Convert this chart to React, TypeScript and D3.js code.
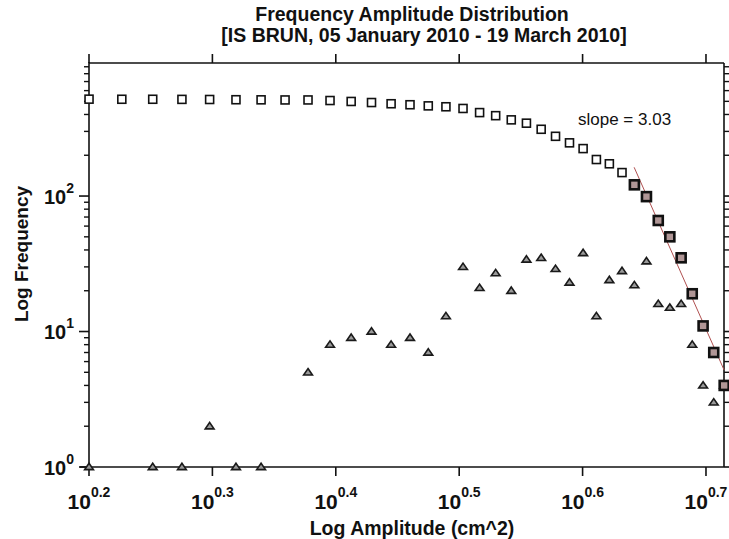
import React from "react";
import * as d3 from "d3";

// Amplitude bins (cm^2)
const amplitudes = [
  1.585, 1.685, 1.785, 1.885, 1.985, 2.085, 2.185, 2.285, 2.385, 2.485,
  2.585, 2.685, 2.785, 2.885, 2.985, 3.085, 3.185, 3.285, 3.385, 3.485,
  3.585, 3.685, 3.785, 3.885, 3.985, 4.085, 4.185, 4.285, 4.385, 4.485,
  4.585, 4.685, 4.785, 4.885, 4.985, 5.085, 5.185,
];
// Cumulative frequency (squares)
const cumulative = [
  519, 518, 518, 517, 516, 514, 513, 512, 512, 507,
  499, 490, 480, 472, 463, 456, 443, 413, 392, 365,
  345, 311, 276, 247, 224, 186, 173, 149, 121, 99,
  66, 50, 35, 19, 11, 7, 4,
];
// Incremental frequency (triangles), 0 = not plotted
const incremental = [
  1, 0, 1, 1, 2, 1, 1, 0, 5, 8,
  9, 10, 8, 9, 7, 13, 30, 21, 27, 20,
  34, 35, 29, 23, 38, 13, 24, 28, 22, 33,
  16, 15, 16, 8, 4, 3, 4,
];
// Points used for the fit (highlighted squares): index range
const fitStartIndex = 28;
// Fit line endpoints
const fitAmp = [4.383, 5.184];
const fitFreq = [163, 5.2];
const slopeLabel = "slope = 3.03";

const xTickExps = ["0.2", "0.3", "0.4", "0.5", "0.6", "0.7"];
const yTickExps = ["0", "1", "2"];

const W = 729;
const H = 539;
const L = 89, R = 724, T = 63, B = 467;
const FONT = "'Liberation Sans', Arial, sans-serif";

export default function App() {
  const x = d3.scaleLog().domain([Math.pow(10, 0.2), Math.pow(10, 0.7146)]).range([L, R]);
  const y = d3.scaleLog().domain([1, Math.pow(10, 2.982)]).range([B, T]);

  const yMinor: number[] = [];
  [1, 10, 100].forEach((d) => {
    for (let k = 2; k <= 9; k++) {
      const v = d * k;
      if (v <= y.domain()[1]) yMinor.push(v);
    }
  });

  const tri = (cx: number, cy: number) => {
    const s = 4.4;
    return `M${cx},${cy - s * 0.85} L${cx + s},${cy + s * 0.6} L${cx - s},${cy + s * 0.6} Z`;
  };

  const line = d3
    .line<number>()
    .x((_, i) => x(fitAmp[i]))
    .y((d) => y(d));

  return (
    <svg width={W} height={H} style={{ position: "absolute", left: 0, top: 0, background: "#fff" }} fontFamily={FONT}>
      <rect x={0} y={0} width={W} height={H} fill="#fff" />
      {/* title */}
      <text x={412} y={21} textAnchor="middle" fontWeight="bold" fontSize={19.5} fill="#111">
        Frequency Amplitude Distribution
      </text>
      <text x={424} y={42} textAnchor="middle" fontWeight="bold" fontSize={19.5} fill="#111">
        [IS BRUN, 05 January 2010 - 19 March 2010]
      </text>

      {/* frame */}
      <g stroke="#111" strokeWidth={1.6} fill="none">
        <line x1={L} y1={T - 1} x2={L} y2={B} />
        <line x1={L - 9} y1={B} x2={R} y2={B} />
        <line x1={L} y1={T} x2={R} y2={T} />
        <line x1={R} y1={T} x2={R} y2={B} />
      </g>

      {/* x ticks bottom & top */}
      {xTickExps.map((e) => {
        const v = Math.pow(10, +e);
        const xx = x(v);
        return (
          <g key={"xt" + e}>
            <line x1={xx} x2={xx} y1={B} y2={B + 9} stroke="#111" strokeWidth={1.6} />
            <line x1={xx} x2={xx} y1={T} y2={T - 9} stroke="#111" strokeWidth={1.6} />
            <text x={xx} y={509} textAnchor="middle" fontWeight="bold" fill="#111">
              <tspan fontSize={21}>10</tspan>
              <tspan fontSize={14} dy={-12}>{e}</tspan>
            </text>
          </g>
        );
      })}

      {/* y ticks left & right */}
      {yTickExps.map((e) => {
        const yy = y(Math.pow(10, +e));
        return (
          <g key={"yt" + e}>
            <line x1={L - 10} x2={L} y1={yy} y2={yy} stroke="#111" strokeWidth={1.6} />
            <line x1={R} x2={R + 8} y1={yy} y2={yy} stroke="#111" strokeWidth={1.6} />
            <text x={74} y={yy + 7.5} textAnchor="end" fontWeight="bold" fill="#111">
              <tspan fontSize={20}>10</tspan>
              <tspan fontSize={14} dy={-11}>{e}</tspan>
            </text>
          </g>
        );
      })}
      {yMinor.map((v) => (
        <g key={"ym" + v}>
          <line x1={L - 5} x2={L} y1={y(v)} y2={y(v)} stroke="#111" strokeWidth={1.4} />
          <line x1={R} x2={R + 5} y1={y(v)} y2={y(v)} stroke="#111" strokeWidth={1.4} />
        </g>
      ))}

      {/* axis titles */}
      <text x={412} y={535} textAnchor="middle" fontWeight="bold" fontSize={19.5} fill="#111">
        Log Amplitude (cm^2)
      </text>
      <text
        transform={`translate(28,254) rotate(-90)`}
        textAnchor="middle"
        fontWeight="bold"
        fontSize={19}
        fill="#111"
      >
        Log Frequency
      </text>

      {/* fit line */}
      <path d={line(fitFreq) || ""} stroke="#b05050" strokeWidth={1} fill="none" />

      {/* triangles */}
      {incremental.map((v, i) =>
        v > 0 ? (
          <path key={"tr" + i} d={tri(x(amplitudes[i]), y(v))} fill="#9a9a9a" stroke="#1a1a1a" strokeWidth={1.6} />
        ) : null
      )}

      {/* squares */}
      {cumulative.map((v, i) => {
        const fitted = i >= fitStartIndex;
        const s = fitted ? 9 : 8;
        return (
          <rect
            key={"sq" + i}
            x={x(amplitudes[i]) - s / 2}
            y={y(v) - s / 2}
            width={s}
            height={s}
            fill={fitted ? "#b09696" : "#fff"}
            stroke="#111"
            strokeWidth={fitted ? 2.6 : 1.6}
          />
        );
      })}

      <text x={578} y={125} fontSize={17} fill="#111">
        {slopeLabel}
      </text>
    </svg>
  );
}
